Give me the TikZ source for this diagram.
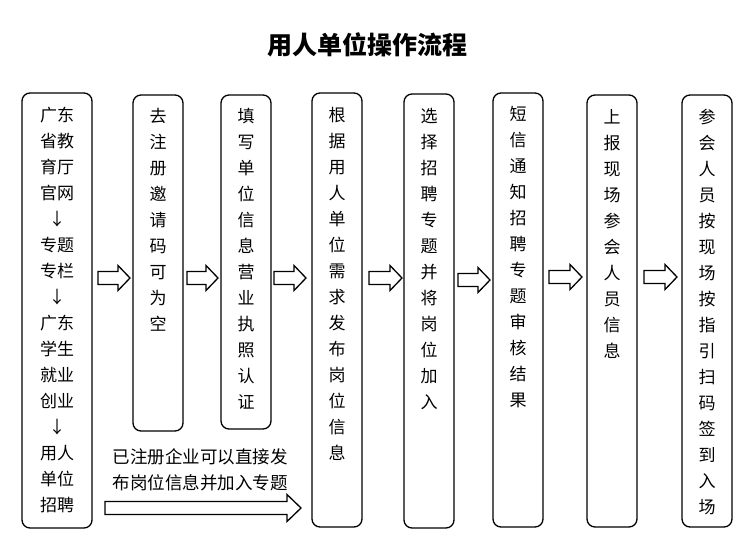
\documentclass[tikz,border=0pt]{standalone}
\usepackage{fontspec}
\setmainfont{Noto Sans CJK SC}
\usetikzlibrary{calc}
\tikzset{
  box/.style={draw, line width=1.3pt, rounded corners=8pt, inner sep=0pt},
  vtext/.style={anchor=north, inner sep=0pt, align=center, font=\fontsize{17}{26}\selectfont},
  blockarrow/.style={draw, line width=1.3pt, line join=miter, fill=white},
}
% block arrow from point #1 to point #2 (horizontal), y taken from #1
\newcommand{\blockarr}[2]{%
  \draw[blockarrow] let \p1=(#1), \p2=(#2) in
    (\x1,\y1+6.5pt) -- (\x2-12pt,\y1+6.5pt) -- (\x2-12pt,\y1+12.5pt) -- (\x2,\y1)
    -- (\x2-12pt,\y1-12.5pt) -- (\x2-12pt,\y1-6.5pt) -- (\x1,\y1-6.5pt) -- cycle;}
\begin{document}
\begin{tikzpicture}[x=1pt,y=-1pt]
\useasboundingbox (0,0) rectangle (754,548);
\node[font=\fontsize{25}{29}\selectfont\bfseries] (title) at (367,45) {用人单位操作流程};

\node[box, minimum width=70pt, minimum height=435pt] (b1) at (57,310.5) {};
\node[box, minimum width=50pt, minimum height=336pt] (b2) at (158,263) {};
\node[box, minimum width=50pt, minimum height=334pt] (b3) at (246,262) {};
\node[box, minimum width=50pt, minimum height=434pt] (b4) at (337,310) {};
\node[box, minimum width=50pt, minimum height=434pt] (b5) at (429,311) {};
\node[box, minimum width=50pt, minimum height=434pt] (b6) at (518,310) {};
\node[box, minimum width=50pt, minimum height=432pt] (b7) at (612,311) {};
\node[box, minimum width=50pt, minimum height=432pt] (b8) at (707,311) {};

\node[vtext] (t1) at (57,107) {广东\\省教\\育厅\\官网\\↓\\专题\\专栏\\↓\\广东\\学生\\就业\\创业\\↓\\用人\\单位\\招聘};
\node[vtext] (t2) at (158,108) {去\\注\\册\\邀\\请\\码\\可\\为\\空};
\node[vtext] (t3) at (246,108) {填\\写\\单\\位\\信\\息\\营\\业\\执\\照\\认\\证};
\node[vtext] (t4) at (337,107) {根\\据\\用\\人\\单\\位\\需\\求\\发\\布\\岗\\位\\信\\息};
\node[vtext] (t5) at (429,108) {选\\择\\招\\聘\\专\\题\\并\\将\\岗\\位\\加\\入};
\node[vtext] (t6) at (518,106) {短\\信\\通\\知\\招\\聘\\专\\题\\审\\核\\结\\果};
\node[vtext] (t7) at (612,109) {上\\报\\现\\场\\参\\会\\人\\员\\信\\息};
\node[vtext] (t8) at (707,109) {参\\会\\人\\员\\按\\现\\场\\按\\指\\引\\扫\\码\\签\\到\\入\\场};

\node[align=center, inner sep=0pt, font=\fontsize{17.5}{26}\selectfont] (note) at (200,470) {已注册企业可以直接发\\布岗位信息并加入专题};

\coordinate (a1s) at (98,278);  \coordinate (a1e) at (130,278);
\coordinate (a2s) at (187,278); \coordinate (a2e) at (218,278);
\coordinate (a3s) at (274,278); \coordinate (a3e) at (306,278);
\coordinate (a4s) at (369,278); \coordinate (a4e) at (402,278);
\coordinate (a5s) at (458,280); \coordinate (a5e) at (490,280);
\coordinate (a6s) at (549,277); \coordinate (a6e) at (582,277);
\coordinate (a7s) at (644,277); \coordinate (a7e) at (677,277);
\blockarr{a1s}{a1e}
\blockarr{a2s}{a2e}
\blockarr{a3s}{a3e}
\blockarr{a4s}{a4e}
\blockarr{a5s}{a5e}
\blockarr{a6s}{a6e}
\blockarr{a7s}{a7e}
\coordinate (ls) at (105,508); \coordinate (le) at (301,508);
\draw[blockarrow] let \p1=(ls), \p2=(le) in
    (\x1,\y1+6.5pt) -- (\x2-14pt,\y1+6.5pt) -- (\x2-14pt,\y1+13.5pt) -- (\x2,\y1)
    -- (\x2-14pt,\y1-13.5pt) -- (\x2-14pt,\y1-6.5pt) -- (\x1,\y1-6.5pt) -- cycle;
\end{tikzpicture}
\end{document}
